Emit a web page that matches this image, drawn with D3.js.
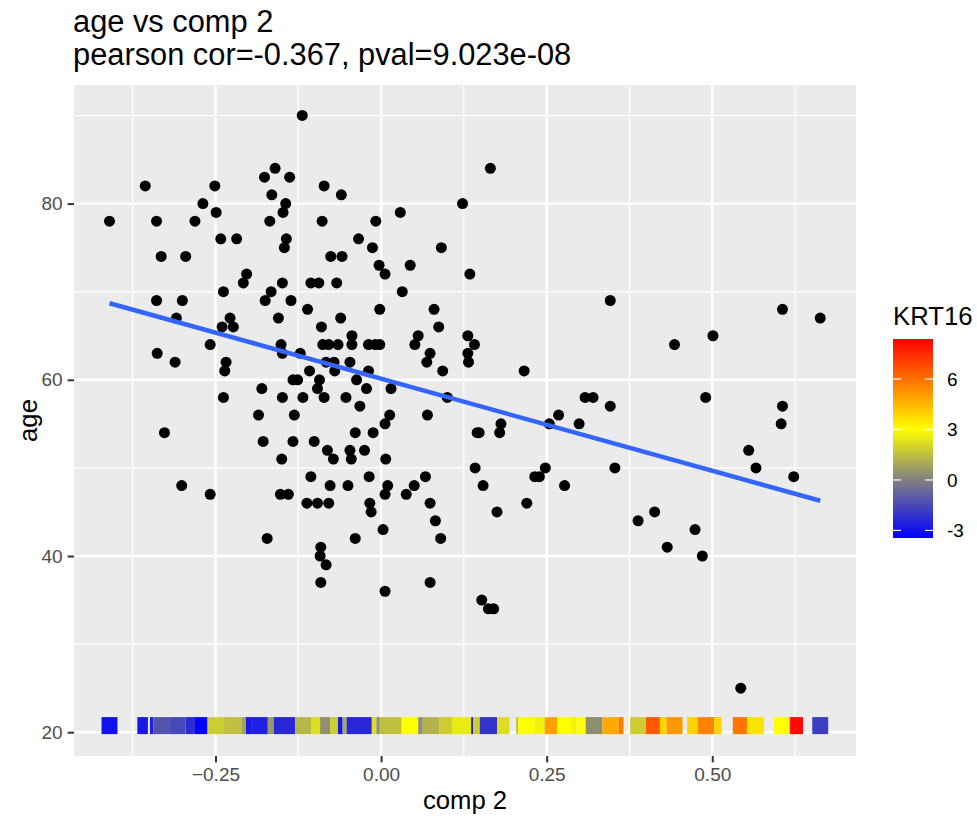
<!DOCTYPE html>
<html>
<head>
<meta charset="utf-8">
<script src="https://cdn.jsdelivr.net/npm/d3@7"></script>
<style>
  body { margin: 0; background: #fff; }
  text { font-family: "Liberation Sans", Arial, sans-serif; }
</style>
</head>
<body>
<div id="chart"></div>
<script>
// samples: comp 2 score and age
var comp2 = [-0.356,-0.251,-0.176,-0.269,-0.410,-0.339,-0.281,-0.249,-0.242,-0.218,-0.332,-0.295,
  -0.203,-0.208,-0.238,-0.175,-0.339,-0.300,-0.309,-0.228,-0.240,-0.223,-0.258,-0.338,-0.311,-0.234,
  -0.236,-0.180,-0.238,-0.185,-0.327,-0.178,-0.301,-0.258,-0.172,
  -0.119,-0.160,-0.138,-0.165,-0.086,-0.060,-0.144,-0.148,-0.168,-0.089,-0.008,0.029,-0.143,-0.034,
  -0.146,-0.013,0.091,-0.076,-0.059,
  -0.003,0.006,0.044,-0.149,-0.106,-0.094,-0.067,-0.166,0.032,-0.136,-0.111,-0.002,0.080,-0.155,-0.061,
  0.087,-0.090,-0.044,0.056,-0.151,-0.088,-0.079,-0.065,-0.044,-0.019,-0.009,-0.002,0.051,-0.149,-0.122,
  0.074,0.069,-0.083,-0.071,-0.047,-0.070,-0.108,-0.019,0.093,-0.133,-0.126,-0.093,-0.096,-0.037,-0.022,
  0.015,-0.149,-0.118,-0.086,-0.053,-0.032,-0.131,0.013,0.070,0.006,
  -0.039,-0.012,-0.133,-0.101,-0.081,-0.047,-0.025,-0.150,-0.072,-0.045,0.007,-0.106,-0.018,0.067,
  -0.077,-0.050,0.010,0.050,-0.152,-0.140,0.006,0.038,-0.112,-0.096,-0.079,-0.017,0.074,-0.015,0.082,
  0.003,-0.039,0.090,-0.091,-0.092,-0.083,-0.091,0.006,0.074,
  0.142,0.154,0.175,0.220,0.232,0.239,0.248,0.277,0.353,0.388,0.413,0.432,0.474,0.485,0.555,0.566,
  0.623,0.543,0.152,0.162,0.170,
  0.134,0.346,0.606,0.663,0.443,0.501,0.131,0.141,0.131,0.132,0.216,0.100,0.308,0.320,0.346,0.490,
  0.268,0.606,0.604,0.181,0.254,0.299,0.145,0.148,0.179,
  0.165,0.123];
var age = [82,82,83,80,78,78,78,79,76,76,74,74,
  72,71,70,69,69,69,67,67,66,66,64,63,62,62,
  61,59,58,56,54,53,48,47,42,
  90,84,83,81,82,81,80,79,78,78,78,79,76,76,
  75,75,75,74,74,
  73,72,73,71,71,71,71,70,70,69,68,68,68,67,67,
  66,66,65,65,64,64,64,64,64,64,64,64,64,63,63,
  63,62,62,62,62,61,61,61,61,60,60,60,59,60,59,
  59,58,58,58,58,57,56,56,56,55,
  54,54,53,53,52,52,52,51,51,51,51,49,49,49,
  48,48,48,48,47,47,47,47,46,46,46,46,46,45,44,
  43,42,42,41,40,39,37,36,37,
  50,48,45,46,49,49,50,48,50,44,45,41,43,40,52,50,
  49,25,35,34,34,
  72,69,68,67,64,65,65,64,63,62,61,58,58,58,57,58,
  56,57,55,55,55,55,54,54,54,
  84,80];

// KRT16 strip along the bottom: visible runs (comp 2 from / to) and KRT16 value
var stripFrom = [-0.422,-0.368,-0.349,-0.344,-0.320,-0.295,-0.281,-0.262,-0.237,-0.210,-0.204,-0.195,
  -0.171,-0.162,-0.130,-0.105,-0.092,-0.077,-0.065,-0.058,-0.052,-0.014,-0.007,-0.002,0.031,0.056,
  0.063,0.088,0.107,0.136,0.139,0.149,0.175,0.204,0.207,0.232,0.247,0.266,0.287,0.295,0.309,0.334,
  0.359,0.376,0.400,0.421,0.431,0.462,0.478,0.503,0.531,0.553,0.593,0.617,0.651];
var stripTo = [-0.398,-0.352,-0.344,-0.320,-0.295,-0.281,-0.262,-0.237,-0.210,-0.204,-0.195,-0.171,
  -0.162,-0.130,-0.105,-0.092,-0.077,-0.065,-0.058,-0.052,-0.014,-0.007,-0.002,0.031,0.056,0.063,
  0.088,0.107,0.136,0.139,0.149,0.175,0.194,0.207,0.232,0.247,0.266,0.287,0.295,0.309,0.334,0.359,
  0.366,0.400,0.421,0.431,0.455,0.478,0.503,0.514,0.553,0.578,0.617,0.637,0.675];
var stripKRT16 = [-3.0,-2.8,-2.6,-1.2,-1.5,-2.3,-3.4,1.8,1.5,0.8,-2.8,-2.6,
  0.6,-2.4,1.3,2.2,0.4,1.8,-2.8,1.0,-2.4,2.2,0.4,1.5,3.0,0.4,
  1.2,1.8,2.5,-2.6,1.8,-2.1,2.2,1.5,3.0,2.7,5.0,3.0,2.7,3.0,0.3,4.8,
  5.8,1.8,6.5,3.9,5.2,3.9,5.6,3.9,5.9,3.6,3.0,8.2,-1.8];

var xTicks = [-0.25, 0, 0.25, 0.5];
var xMinor = [-0.375, -0.125, 0.125, 0.375, 0.625];
var yTicks = [20, 40, 60, 80];
var yMinor = [30, 50, 70, 90];
var legendTicks = [-3, 0, 3, 6];

var W = 977, H = 821;
var panel = {left: 74, right: 856, top: 85, bottom: 756};

var svg = d3.select("#chart").append("svg")
    .attr("width", W)
    .attr("height", H);

var x = d3.scaleLinear()
    .domain([-0.4636, 0.717])
    .range([panel.left, panel.right]);

var y = d3.scaleLinear()
    .domain([17.3, 93.46])
    .range([panel.bottom, panel.top]);

var color = d3.scaleLinear()
    .domain([-3.45, 0, 3, 8.38])
    .range(["#0000ff", "#808080", "#ffff00", "#ff0000"])
    .clamp(true);

// panel background
svg.append("rect")
    .attr("x", panel.left)
    .attr("y", panel.top)
    .attr("width", panel.right - panel.left)
    .attr("height", panel.bottom - panel.top)
    .attr("fill", "#ebebeb");

// grid
var grid = svg.append("g");
grid.selectAll(".xminor").data(xMinor).enter().append("line")
    .attr("x1", d => x(d)).attr("x2", d => x(d))
    .attr("y1", panel.top).attr("y2", panel.bottom)
    .attr("stroke", "#fff").attr("stroke-width", 1.2);
grid.selectAll(".yminor").data(yMinor).enter().append("line")
    .attr("y1", d => y(d)).attr("y2", d => y(d))
    .attr("x1", panel.left).attr("x2", panel.right)
    .attr("stroke", "#fff").attr("stroke-width", 1.2);
grid.selectAll(".xmajor").data(xTicks).enter().append("line")
    .attr("x1", d => x(d)).attr("x2", d => x(d))
    .attr("y1", panel.top).attr("y2", panel.bottom)
    .attr("stroke", "#fff").attr("stroke-width", 2.4);
grid.selectAll(".ymajor").data(yTicks).enter().append("line")
    .attr("y1", d => y(d)).attr("y2", d => y(d))
    .attr("x1", panel.left).attr("x2", panel.right)
    .attr("stroke", "#fff").attr("stroke-width", 2.4);

// KRT16 strip
var stripY = 20.75, stripH = 1.93;
svg.append("g").selectAll("rect")
    .data(stripKRT16)
    .enter().append("rect")
    .attr("x", (d, i) => x(stripFrom[i]))
    .attr("width", (d, i) => x(stripTo[i]) - x(stripFrom[i]))
    .attr("y", y(stripY + stripH / 2))
    .attr("height", y(stripY - stripH / 2) - y(stripY + stripH / 2))
    .attr("fill", d => color(d));

// points
svg.append("g").selectAll("circle")
    .data(age)
    .enter().append("circle")
    .attr("cx", (d, i) => x(comp2[i]))
    .attr("cy", d => y(d))
    .attr("r", 5.5)
    .attr("fill", "#000");

// linear fit (lm)
var mx = d3.mean(comp2), my = d3.mean(age);
var sxy = d3.sum(comp2, (v, i) => (v - mx) * (age[i] - my));
var sxx = d3.sum(comp2, v => (v - mx) * (v - mx));
var slope = sxy / sxx, intercept = my - slope * mx;
var ext = d3.extent(comp2);
svg.append("line")
    .attr("x1", x(ext[0])).attr("y1", y(intercept + slope * ext[0]))
    .attr("x2", x(ext[1])).attr("y2", y(intercept + slope * ext[1]))
    .attr("stroke", "#3366ff")
    .attr("stroke-width", 4.5);

// axes
var xAxis = svg.append("g")
    .attr("transform", "translate(0," + panel.bottom + ")")
    .call(d3.axisBottom(x).tickValues(xTicks).tickFormat(d3.format(".2f")).tickSize(6.4).tickPadding(5));
var yAxis = svg.append("g")
    .attr("transform", "translate(" + panel.left + ",0)")
    .call(d3.axisLeft(y).tickValues(yTicks).tickSize(6.4).tickPadding(5));
[xAxis, yAxis].forEach(function(a) {
    a.select(".domain").remove();
    a.selectAll(".tick line").attr("stroke", "#333333").attr("stroke-width", 2);
    a.selectAll(".tick text")
        .attr("fill", "#4d4d4d")
        .style("font-size", "19px")
        .style("font-family", "'Liberation Sans', Arial, sans-serif");
});

// axis titles
svg.append("text")
    .attr("x", (panel.left + panel.right) / 2)
    .attr("y", 809)
    .attr("text-anchor", "middle")
    .style("font-size", "25.7px")
    .text("comp 2");
svg.append("text")
    .attr("transform", "translate(37," + ((panel.top + panel.bottom) / 2) + ") rotate(-90)")
    .attr("text-anchor", "middle")
    .style("font-size", "25.7px")
    .text("age");

// title
svg.append("text")
    .attr("x", 73).attr("y", 32)
    .style("font-size", "30.8px")
    .text("age vs comp 2");
svg.append("text")
    .attr("x", 73).attr("y", 65)
    .style("font-size", "30.8px")
    .text("pearson cor=-0.367, pval=9.023e-08");

// legend
var leg = {x: 893, w: 40, top: 339, bottom: 538};
var ly = d3.scaleLinear().domain([-3.45, 8.38]).range([leg.bottom, leg.top]);
var grad = svg.append("defs").append("linearGradient")
    .attr("id", "krt")
    .attr("x1", 0).attr("y1", 1).attr("x2", 0).attr("y2", 0);
d3.range(0, 1.0001, 0.05).forEach(function(t) {
    grad.append("stop")
        .attr("offset", t)
        .attr("stop-color", color(-3.45 + t * (8.38 + 3.45)));
});
svg.append("text")
    .attr("x", leg.x).attr("y", 325)
    .style("font-size", "25.7px")
    .text("KRT16");
svg.append("rect")
    .attr("x", leg.x).attr("y", leg.top)
    .attr("width", leg.w).attr("height", leg.bottom - leg.top)
    .attr("fill", "url(#krt)");
var lt = svg.append("g").selectAll("g").data(legendTicks).enter().append("g");
lt.append("line")
    .attr("x1", leg.x).attr("x2", leg.x + 8)
    .attr("y1", d => ly(d)).attr("y2", d => ly(d))
    .attr("stroke", "#fff").attr("stroke-width", 1.2);
lt.append("line")
    .attr("x1", leg.x + leg.w - 8).attr("x2", leg.x + leg.w)
    .attr("y1", d => ly(d)).attr("y2", d => ly(d))
    .attr("stroke", "#fff").attr("stroke-width", 1.2);
lt.append("text")
    .attr("x", leg.x + leg.w + 14)
    .attr("y", d => ly(d))
    .attr("dy", "0.35em")
    .style("font-size", "19px")
    .attr("fill", "#000")
    .text(d => d);
</script>
</body>
</html>
